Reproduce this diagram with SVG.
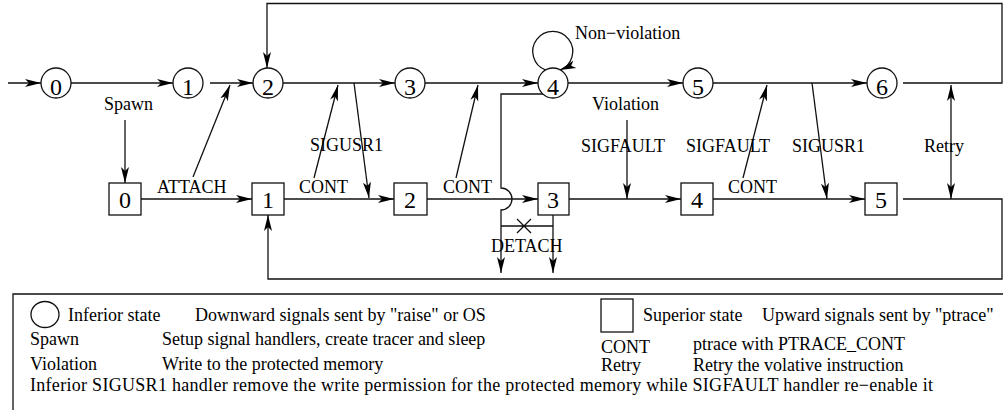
<svg xmlns="http://www.w3.org/2000/svg" width="1003" height="410" viewBox="0 0 1003 410">
<style>
.ln{fill:none;stroke:#111;stroke-width:1.3}
.ar{marker-end:url(#ah)}
.nd{fill:#fff;stroke:#111;stroke-width:1.3}
text{font-family:"Liberation Serif","Times New Roman",serif;fill:#000}
.lb{font-size:18px}
.dg{font-size:24px;text-anchor:middle}
</style>
<defs>
<marker id="ah" markerUnits="userSpaceOnUse" markerWidth="18" markerHeight="12" refX="16" refY="5" orient="auto-start-reverse">
<path d="M0,1 L16,5 L0,9 L4,5 Z" fill="#000"/>
</marker>
</defs>
<rect x="0" y="0" width="1003" height="410" fill="#fff"/>
<g id="connectors">
<path class="ln ar" d="M8,83 H41"/>
<path class="ln ar" d="M71,83 H173"/>
<path class="ln ar" d="M210,83 H253"/>
<path class="ln ar" d="M903,83 H1002 V3.5 H267 V68"/>
<path class="ln ar" d="M283,83 H395"/>
<path class="ln ar" d="M425,83 H538"/>
<path class="ln ar" d="M568,83 H683"/>
<path class="ln ar" d="M713,83 H867"/>
<path class="ln ar" d="M545.5,70 A20,20 0 1 1 560,70"/>
<path class="ln ar" d="M125,120 V183"/>
<path class="ln ar" d="M141,199 H252"/>
<path class="ln ar" d="M284,199 H394"/>
<path class="ln ar" d="M427,199 H538"/>
<path class="ln ar" d="M569,199 H681"/>
<path class="ln ar" d="M713,199 H865"/>
<path class="ln ar" d="M903,199 H1002 V279 H268 V215"/>
<path class="ln ar" d="M543,94 H501 V188 A6,6 0 0 1 501,210 V273"/>
<path class="ln ar" d="M553,215 V273"/>
<path class="ln" d="M501,226 H553 M517,219 L531,233 M531,219 L517,233"/>
<path class="ln ar" d="M627,120 V199"/>
<path class="ln ar" d="M193,177 L230,85"/>
<path class="ln ar" d="M314,178 L338,85"/>
<path class="ln ar" d="M354,83 L369,198"/>
<path class="ln ar" d="M456,178 L478,85"/>
<path class="ln ar" d="M743,178 L767,85"/>
<path class="ln ar" d="M812,83 L827,199"/>
<path class="ln ar" d="M951,85 V199" style="marker-start:url(#ah)"/>
</g>
<g id="c0"><circle class="nd" cx="56" cy="83" r="15"/><text class="dg" x="56" y="95">0</text></g>
<g id="c1"><circle class="nd" cx="188" cy="83" r="15"/><text class="dg" x="188" y="95">1</text></g>
<g id="c2"><circle class="nd" cx="268" cy="83" r="15"/><text class="dg" x="268" y="95">2</text></g>
<g id="c3"><circle class="nd" cx="410" cy="83" r="15"/><text class="dg" x="410" y="95">3</text></g>
<g id="c4"><circle class="nd" cx="553" cy="83" r="15"/><text class="dg" x="553" y="95">4</text></g>
<g id="c5"><circle class="nd" cx="698" cy="83" r="15"/><text class="dg" x="698" y="95">5</text></g>
<g id="c6"><circle class="nd" cx="882" cy="83" r="15"/><text class="dg" x="882" y="95">6</text></g>
<g id="b0"><rect class="nd" x="109" y="183" width="32" height="32"/><text class="dg" x="125" y="208">0</text></g>
<g id="b1"><rect class="nd" x="252" y="183" width="32" height="32"/><text class="dg" x="268" y="208">1</text></g>
<g id="b2"><rect class="nd" x="394" y="183" width="33" height="32"/><text class="dg" x="410" y="208">2</text></g>
<g id="b3"><rect class="nd" x="538" y="183" width="31" height="32"/><text class="dg" x="553" y="208">3</text></g>
<g id="b4"><rect class="nd" x="681" y="183" width="32" height="32"/><text class="dg" x="697" y="208">4</text></g>
<g id="b5"><rect class="nd" x="865" y="183" width="32" height="32"/><text class="dg" x="881" y="208">5</text></g>
<g id="labels" class="lb">
<text x="104" y="110">Spawn</text>
<text x="157" y="193">ATTACH</text>
<text x="310" y="151">SIGUSR1</text>
<text x="299" y="193">CONT</text>
<text x="443" y="193">CONT</text>
<text x="575" y="39">Non−violation</text>
<text x="592" y="110">Violation</text>
<text x="581" y="152">SIGFAULT</text>
<text x="491" y="252">DETACH</text>
<text x="686" y="152">SIGFAULT</text>
<text x="728" y="193">CONT</text>
<text x="792" y="152">SIGUSR1</text>
<text x="924" y="152">Retry</text>
</g>
<g id="legend" class="lb">
<path class="ln" d="M1003,294 H13 V410"/>
<ellipse class="nd" cx="45" cy="314.5" rx="14" ry="13"/>
<text x="68" y="321">Inferior state</text>
<text x="195" y="321">Downward signals sent by "raise" or OS</text>
<rect class="nd" x="601" y="299" width="32" height="33"/>
<text x="643" y="321">Superior state</text>
<text x="762" y="321">Upward signals sent by "ptrace"</text>
<text x="30" y="345">Spawn</text>
<text x="162" y="345">Setup signal handlers, create tracer and sleep</text>
<text x="601" y="353">CONT</text>
<text x="693" y="350">ptrace with PTRACE_CONT</text>
<text x="30" y="370">Violation</text>
<text x="162" y="370">Write to the protected memory</text>
<text x="601" y="371">Retry</text>
<text x="693" y="371">Retry the volative instruction</text>
<text x="30" y="391" textLength="903" lengthAdjust="spacing">Inferior SIGUSR1 handler remove the write permission for the protected memory while SIGFAULT handler re−enable it</text>
</g>
</svg>
